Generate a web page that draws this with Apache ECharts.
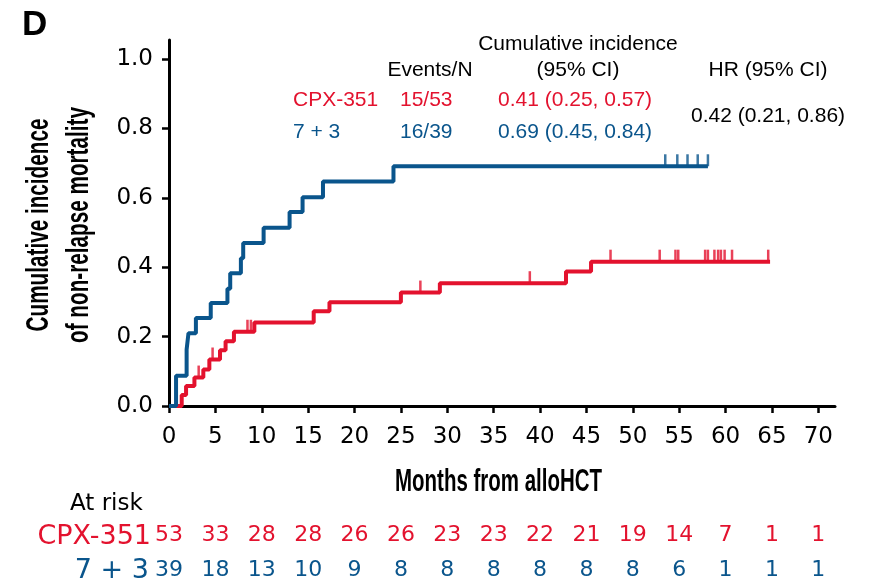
<!DOCTYPE html>
<html>
<head>
<meta charset="utf-8">
<script src="https://cdn.jsdelivr.net/npm/echarts@6/dist/echarts.min.js"></script>
<style>
  html, body { margin: 0; padding: 0; background: #fff; }
  #chart { width: 872px; height: 581px; }
</style>
</head>
<body>
<div id="chart"></div>
<script>
// step curves: [months, cumulative incidence]
const cpxCurve = [[0, 0], [1.37, 0.032], [1.84, 0.058], [2.74, 0.082], [3.7, 0.105], [4.35, 0.134],
  [5.5, 0.161], [6.1, 0.187], [7.0, 0.214], [9.2, 0.241], [15.6, 0.273], [17.3, 0.299],
  [25.0, 0.327], [29.2, 0.354], [42.8, 0.388], [45.5, 0.416], [64.8, 0.416]];
const ctrlCurve = [[0, 0], [0.76, 0.087], [1.9, 0.163], [2.1, 0.21], [2.9, 0.254], [4.5, 0.297],
  [6.3, 0.338], [6.6, 0.383], [7.75, 0.426], [8.0, 0.47], [10.2, 0.514], [13.0, 0.559],
  [14.4, 0.602], [16.6, 0.647], [24.2, 0.691], [58.1, 0.691]];

// censoring marks
const cpxCensor = [[3.2, 0.082], [4.7, 0.134], [8.46, 0.214], [8.83, 0.214], [27.1, 0.327],
  [38.9, 0.354], [47.6, 0.416], [52.9, 0.416], [54.6, 0.416], [54.9, 0.416], [57.8, 0.416],
  [58.1, 0.416], [58.8, 0.416], [59.2, 0.416], [59.5, 0.416], [59.9, 0.416], [60.7, 0.416],
  [64.6, 0.416]];
const ctrlCensor = [[53.5, 0.691], [54.8, 0.691], [55.9, 0.691], [57.0, 0.691], [58.1, 0.691]];

const xTicks = [0, 5, 10, 15, 20, 25, 30, 35, 40, 45, 50, 55, 60, 65, 70];
const yTicks = [0, 0.2, 0.4, 0.6, 0.8, 1.0];
const cpxAtRisk = [53, 33, 28, 28, 26, 26, 23, 23, 22, 21, 19, 14, 7, 1, 1];
const ctrlAtRisk = [39, 18, 13, 10, 9, 8, 8, 8, 8, 8, 8, 6, 1, 1, 1];

const RED = '#e3122e';
const BLUE = '#0a558c';
const FONT = '"Liberation Sans", Arial, sans-serif';
const WIDE = '"DejaVu Sans", sans-serif';

function txt(x, y, text, opts) {
  opts = opts || {};
  return {
    type: 'text', x: x, y: y,
    rotation: opts.rotation || 0,
    scaleX: opts.scaleX || 1,
    style: {
      text: text,
      font: opts.font || ('21px ' + FONT),
      fill: opts.fill || '#000',
      align: opts.align || 'left',
      verticalAlign: 'middle'
    }
  };
}

function riskAxis(counts, color, offset) {
  return {
    type: 'value', gridIndex: 0, position: 'bottom', offset: offset,
    min: 0, max: 71.8,
    axisLine: { show: false }, axisTick: { show: false }, splitLine: { show: false },
    axisLabel: {
      customValues: xTicks, margin: 0, verticalAlign: 'middle',
      color: color, fontSize: 22, fontFamily: WIDE,
      formatter: (v) => { const i = xTicks.indexOf(v); return i < 0 ? '' : String(counts[i]); }
    }
  };
}

const chart = echarts.init(document.getElementById('chart'), null, { renderer: 'canvas' });

// condensed bold titles: regular bold face squeezed along the text direction
const titleFont = 'bold 31px ' + FONT;

chart.setOption({
  backgroundColor: '#fff',
  animation: false,
  grid: { left: 169, right: 37, top: 40, bottom: 172.5, containLabel: false },
  xAxis: [
    {
      type: 'value', min: 0, max: 71.8,
      axisLine: { lineStyle: { color: '#000', width: 3 } },
      axisTick: { customValues: xTicks, length: 7, lineStyle: { color: '#000', width: 2.5 } },
      axisLabel: { customValues: xTicks, margin: 20, color: '#000', fontSize: 23, fontFamily: WIDE },
      splitLine: { show: false }
    },
    riskAxis(cpxAtRisk, RED, 129.5),
    riskAxis(ctrlAtRisk, BLUE, 164)
  ],
  yAxis: {
    type: 'value', min: 0, max: 1.055,
    axisLine: { lineStyle: { color: '#000', width: 3 } },
    axisTick: { customValues: yTicks, length: 7, lineStyle: { color: '#000', width: 2.5 } },
    axisLabel: { customValues: yTicks, margin: 16, color: '#000', fontSize: 23, fontFamily: WIDE,
      formatter: (v) => v.toFixed(1) },
    splitLine: { show: false }
  },
  series: [
    { name: 'CPX-351', type: 'line', step: 'end', data: cpxCurve, showSymbol: false,
      lineStyle: { color: RED, width: 4 }, z: 3 },
    { name: '7 + 3', type: 'line', step: 'end', data: ctrlCurve, showSymbol: false,
      lineStyle: { color: BLUE, width: 4 }, z: 4 },
    { type: 'scatter', data: cpxCensor, symbol: 'rect', symbolSize: [2.5, 12], symbolOffset: [0, -6],
      itemStyle: { color: RED }, z: 3 },
    { type: 'scatter', data: ctrlCensor, symbol: 'rect', symbolSize: [2.5, 12], symbolOffset: [0, -6],
      itemStyle: { color: BLUE }, z: 4 }
  ],
  graphic: [
    txt(22, 25, 'D', { font: 'bold 35px ' + FONT }),
    txt(498.5, 482, 'Months from alloHCT', { font: titleFont, align: 'center', scaleX: 0.66 }),
    txt(39, 225, 'Cumulative incidence', { font: titleFont, align: 'center', scaleX: 0.668, rotation: Math.PI / 2 }),
    txt(79, 225, 'of non-relapse mortality', { font: titleFont, align: 'center', scaleX: 0.668, rotation: Math.PI / 2 }),
    txt(578, 44, 'Cumulative incidence', { align: 'center' }),
    txt(430, 70, 'Events/N', { align: 'center' }),
    txt(578, 70, '(95% CI)', { align: 'center' }),
    txt(768, 70, 'HR (95% CI)', { align: 'center' }),
    txt(293, 100, 'CPX-351', { fill: RED }),
    txt(400, 100, '15/53', { fill: RED }),
    txt(498, 100, '0.41 (0.25, 0.57)', { fill: RED }),
    txt(293, 132, '7 + 3', { fill: BLUE }),
    txt(400, 132, '16/39', { fill: BLUE }),
    txt(498, 132, '0.69 (0.45, 0.84)', { fill: BLUE }),
    txt(768, 116, '0.42 (0.21, 0.86)', { align: 'center' }),
    txt(70, 504, 'At risk', { font: '23px ' + WIDE }),
    txt(151, 537, 'CPX-351', { font: '27px ' + WIDE, fill: RED, align: 'right' }),
    txt(149, 571, '7 + 3', { font: '27px ' + WIDE, fill: BLUE, align: 'right' })
  ]
});
</script>
</body>
</html>
